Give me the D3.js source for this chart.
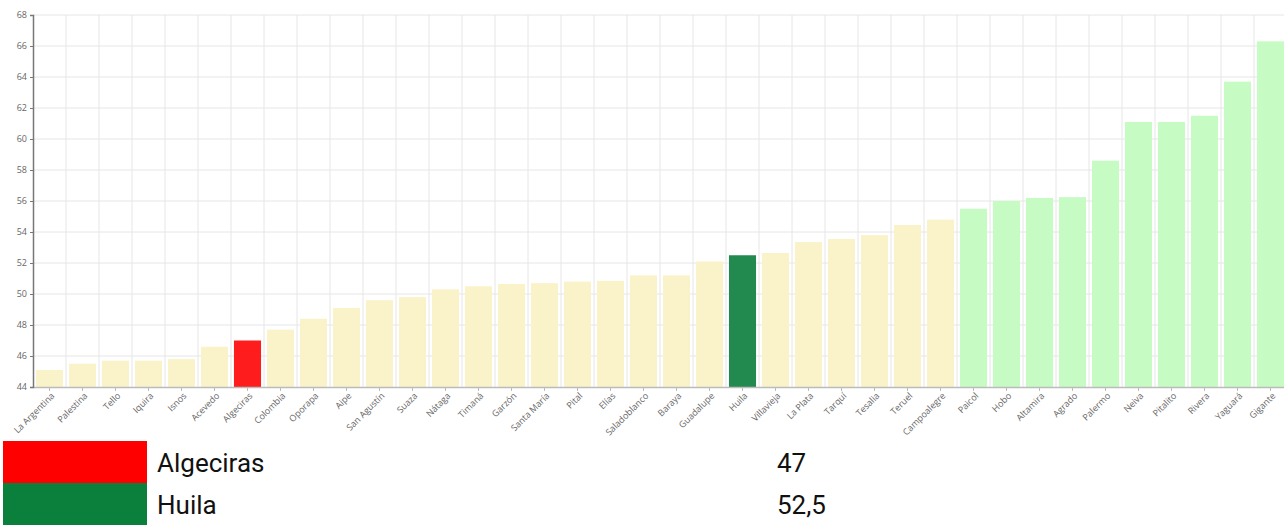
<!DOCTYPE html>
<meta charset="utf-8">
<style>
body { margin: 0; background: #fff; font-family: Roboto, sans-serif; }
.axis text { font: 9px "Open Sans", sans-serif; fill: #666; }
.grid line { stroke: #e6e6e6; }
.legend text { font: 26px Roboto, sans-serif; fill: #111; }
</style>
<svg width="1284" height="525"></svg>
<script src="https://d3js.org/d3.v7.min.js"></script>
<script>

let municipios = ["La Argentina", "Palestina", "Tello", "Iquira", "Isnos", "Acevedo", "Algeciras", "Colombia", "Oporapa", "Aipe",
	"San Agustín", "Suaza", "Nátaga", "Timaná", "Garzón", "Santa María", "Pital", "Elías", "Saladoblanco", "Baraya",
	"Guadalupe", "Huila", "Villavieja", "La Plata", "Tarquí", "Tesalia", "Teruel", "Campoalegre", "Paicol", "Hobo",
	"Altamira", "Agrado", "Palermo", "Neiva", "Pitalito", "Rivera", "Yaguará", "Gigante"];
let valores = [45.1, 45.5, 45.7, 45.7, 45.8, 46.6, 47, 47.7, 48.4, 49.1,
	49.6, 49.8, 50.3, 50.5, 50.65, 50.7, 50.8, 50.85, 51.2, 51.2,
	52.1, 52.5, 52.65, 53.35, 53.55, 53.8, 54.45, 54.8, 55.5, 56.0,
	56.2, 56.25, 58.6, 61.1, 61.1, 61.5, 63.7, 66.3];
let grupos = ["bajo", "bajo", "bajo", "bajo", "bajo", "bajo", "sel", "bajo", "bajo", "bajo",
	"bajo", "bajo", "bajo", "bajo", "bajo", "bajo", "bajo", "bajo", "bajo", "bajo",
	"bajo", "dep", "bajo", "bajo", "bajo", "bajo", "bajo", "bajo", "alto", "alto",
	"alto", "alto", "alto", "alto", "alto", "alto", "alto", "alto"];
let yTicks = [44, 46, 48, 50, 52, 54, 56, 58, 60, 62, 64, 66, 68];
let leyendaNombres = ["Algeciras", "Huila"];
let leyendaValores = ["47", "52,5"];

let colores = {bajo: "#faf3c9", alto: "#c6fcc4", sel: "#ff1c1c", dep: "#238a4f"};
let leyendaColores = ["#ff0000", "#0b803d"];

let svg = d3.select("svg");
let mLeft = 33, mTop = 15, mBottom = 387, mRight = 1287;

let x = d3.scaleBand().domain(municipios).range([mLeft, mRight]).paddingInner(0.18).paddingOuter(0.09);
let y = d3.scaleLinear().domain([44, 68]).range([mBottom, mTop]);

// grid
let grid = svg.append("g").attr("class", "grid");
grid.selectAll(".h").data(yTicks.slice(1)).enter().append("line")
	.attr("x1", mLeft).attr("x2", 1284)
	.attr("y1", d => y(d)).attr("y2", d => y(d));
let step = x.step();
grid.selectAll(".v").data(municipios).enter().append("line")
	.attr("x1", d => x(d) - x.paddingInner() * step / 2 + step)
	.attr("x2", d => x(d) - x.paddingInner() * step / 2 + step)
	.attr("y1", mTop).attr("y2", mBottom);

// bars
svg.selectAll(".bar").data(valores).enter().append("rect")
	.attr("class", "bar")
	.attr("x", (d, i) => x(municipios[i]))
	.attr("width", x.bandwidth())
	.attr("y", d => y(d))
	.attr("height", d => mBottom - y(d))
	.attr("fill", (d, i) => colores[grupos[i]]);

// x axis
let xAxis = svg.append("g").attr("class", "axis")
	.attr("transform", "translate(0," + mBottom + ")")
	.call(d3.axisBottom(x).tickSize(4).tickSizeOuter(0));
xAxis.select(".domain").attr("stroke", "#bbb").attr("stroke-width", 1.5);
xAxis.selectAll(".tick line").attr("stroke", "#bbb");
xAxis.selectAll("text")
	.attr("text-anchor", "end")
	.attr("dx", "-0.3em").attr("dy", "0.4em")
	.attr("transform", "rotate(-45)");

// y axis
let yAxis = svg.append("g").attr("class", "axis")
	.attr("transform", "translate(" + mLeft + ",0)")
	.call(d3.axisLeft(y).tickValues(yTicks).tickSize(3).tickSizeOuter(3));
yAxis.select(".domain").attr("stroke", "#777").attr("stroke-width", 1.5);
yAxis.selectAll(".tick line").attr("stroke", "#777");

// legend
let leg = svg.append("g").attr("class", "legend");
leyendaNombres.forEach(function(n, i) {
	let yy = 441 + i * 42;
	leg.append("rect").attr("x", 3).attr("y", yy).attr("width", 144).attr("height", 42).attr("fill", leyendaColores[i]);
	leg.append("text").attr("x", 157).attr("y", yy + 31).text(n);
	leg.append("text").attr("x", 777).attr("y", yy + 31).text(leyendaValores[i]);
});

</script>
